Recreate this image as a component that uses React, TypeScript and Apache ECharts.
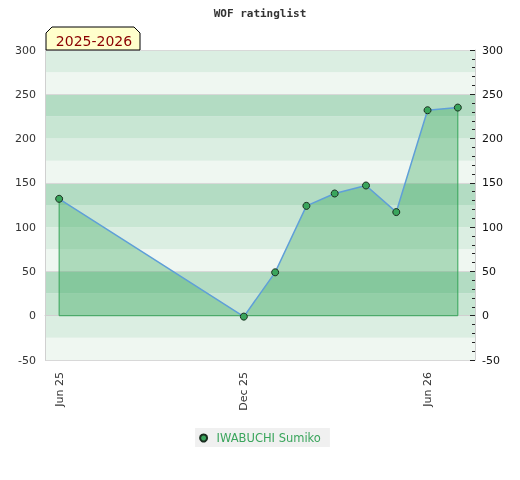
import React, { useEffect, useRef } from "react";
import * as echarts from "echarts";

const dates = ["2025-06-01", "2025-12-01", "2026-01-01", "2026-02-01", "2026-03-01", "2026-04-01", "2026-05-01", "2026-06-01", "2026-07-01"];
const ratings = [132, -1, 49, 124, 138, 147, 117, 232, 235];
const tickDates = ["2025-06-01", "2025-12-01", "2026-06-01"];
const playerName = "IWABUCHI Sumiko";
const seasonLabel = "2025-2026";
const chartTitle = "WOF ratinglist";
const months = ["Jan", "Feb", "Mar", "Apr", "May", "Jun", "Jul", "Aug", "Sep", "Oct", "Nov", "Dec"];

const ts = (s: string) => {
  const [y, m, d] = s.split("-").map(Number);
  return Date.UTC(y, m - 1, d);
};

export default function App() {
  const ref = useRef<HTMLDivElement>(null);
  useEffect(() => {
    if (!ref.current) return;
    const chart = echarts.init(ref.current, null, { renderer: "svg" });
    const pts = dates.map((d, i) => [ts(d), ratings[i]]);
    const first = pts[0];
    const last = pts[pts.length - 1];
    const outline = [first, [first[0], 0], [last[0], 0], last];
    const font = "DejaVu Sans";
    chart.setOption({
      animation: false,
      title: {
        text: chartTitle,
        left: "center",
        top: 3,
        textStyle: { fontFamily: "DejaVu Sans Mono", fontSize: 11, fontWeight: "bold", color: "#333" },
      },
      grid: { left: 45, right: 45, top: 50, bottom: 120 },
      legend: {
        bottom: 33,
        left: "center",
        data: [{ name: playerName, icon: "circle" }],
        backgroundColor: "#f0f0f0",
        padding: [4, 9, 3, 4],
        itemWidth: 16,
        itemHeight: 7,
        textStyle: { color: "#3aa55c", fontFamily: font, fontSize: 11.5 },
      },
      xAxis: {
        type: "value",
        min: ts("2025-05-18"),
        max: ts("2026-07-18"),
        axisLine: { show: true, lineStyle: { color: "#d0d0d0" } },
        axisTick: { show: false },
        splitLine: { show: false },
        axisLabel: {
          customValues: tickDates.map(ts),
          rotate: 90,
          margin: 12,
          color: "#333",
          fontFamily: font,
          fontSize: 11,
          formatter: (v: number) => {
            const d = new Date(v);
            return months[d.getUTCMonth()] + " " + String(d.getUTCFullYear()).slice(2);
          },
        },
      },
      yAxis: [
        {
          type: "value",
          position: "left",
          min: -50,
          max: 300,
          interval: 25,
          axisLine: { show: true, lineStyle: { color: "#d0d0d0" } },
          axisTick: { show: false },
          splitLine: { show: false },
          splitArea: { show: true, areaStyle: { color: ["#eff7f1", "#dbeee2", "#c8e6d3", "#b3dcc3"] } },
          axisLabel: {
            margin: 9,
            color: "#333",
            fontFamily: font,
            fontSize: 11,
            formatter: (v: number) => (v % 50 === 0 ? String(v) : ""),
          },
        },
        {
          type: "value",
          position: "right",
          min: -50,
          max: 300,
          interval: 50,
          axisLine: { show: true, lineStyle: { color: "#d0d0d0" } },
          axisTick: { show: true, inside: true, length: 5, lineStyle: { color: "#222" } },
          minorTick: { show: true, splitNumber: 5, length: 3, lineStyle: { color: "#222" } },
          splitLine: { show: false },
          axisLabel: { margin: 7, color: "#111", fontFamily: font, fontSize: 11 },
        },
        {
          type: "value",
          position: "left",
          min: -50,
          max: 300,
          interval: 100,
          axisLine: { show: false },
          axisTick: { show: false },
          axisLabel: { show: false },
          splitLine: { show: true, lineStyle: { color: "#d8d8d8", width: 1 } },
        },
      ],
      graphic: [
        {
          type: "polygon",
          shape: { points: [[46, 50], [46, 33], [52, 27], [134, 27], [140, 33], [140, 50]] },
          style: { fill: "#ffffcc", stroke: "#000", lineWidth: 1 },
          z: 10,
        },
        {
          type: "text",
          x: 94,
          y: 40.5,
          style: {
            text: seasonLabel,
            fill: "#8b0000",
            font: "14px 'DejaVu Sans'",
            align: "center",
            verticalAlign: "middle",
          },
          z: 11,
        },
      ],
      series: [
        {
          type: "line",
          name: "outline",
          data: outline,
          symbol: "none",
          silent: true,
          lineStyle: { color: "#3aa55c", width: 1 },
          z: 2,
        },
        {
          type: "line",
          name: playerName,
          data: pts,
          symbol: "circle",
          symbolSize: 7,
          lineStyle: { color: "#5f9fd8", width: 1.5 },
          itemStyle: { color: "#3aa55c", borderColor: "#1a2e20", borderWidth: 1 },
          areaStyle: { color: "rgba(40,160,80,0.47)", origin: 0 },
          z: 3,
        },
      ],
    });
    return () => chart.dispose();
  }, []);
  return <div ref={ref} style={{ position: "fixed", left: 0, top: 0, width: 520, height: 480 }} />;
}
